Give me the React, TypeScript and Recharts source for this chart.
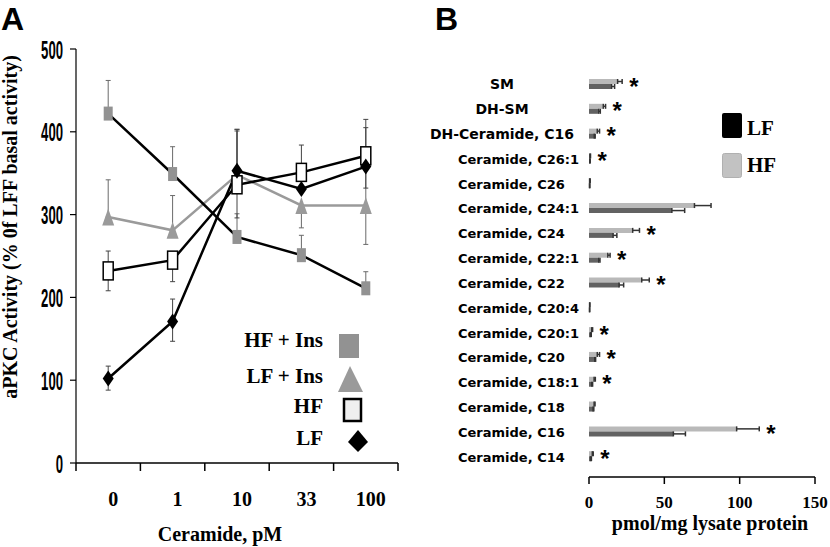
import React from 'react';
import { LineChart, Line, XAxis, YAxis, ErrorBar, BarChart, Bar, LabelList, Legend, Label } from 'recharts';

const SERIF = "'Liberation Serif', 'Times New Roman', serif";
const SANS = "'Liberation Sans', Arial, sans-serif";
const NARROW = "'Liberation Sans Narrow', 'Liberation Sans', Arial, sans-serif";
const LABEL_SANS = "'DejaVu Sans', 'Liberation Sans', sans-serif";

// ---------- Panel A data ----------
const concentrations = ['0', '1', '10', '33', '100'];
const hfInsValues = [422, 349, 273, 251, 211];
const hfInsErrors = [[0, 40], [0, 33], [0, 28], [0, 24], [0, 20]];
const lfInsValues = [297, 281, 348, 311, 311];
const lfInsErrors = [[0, 45], [0, 42], [0, 55], [27, 0], [47, 50]];
const hfValues = [232, 245, 336, 351, 371];
const hfErrors = [[24, 24], [26, 0], [40, 65], [0, 33], [0, 44]];
const lfValues = [102, 171, 353, 331, 358];
const lfErrors = [[14, 15], [24, 27], [0, 50], [0, 0], [26, 47]];
const yTicksA = [0, 100, 200, 300, 400, 500];
const legendA = ['HF + Ins', 'LF + Ins', 'HF', 'LF'];

// ---------- Panel B data ----------
const lipids = [
  'SM', 'DH-SM', 'DH-Ceramide, C16', 'Ceramide, C26:1', 'Ceramide, C26', 'Ceramide, C24:1',
  'Ceramide, C24', 'Ceramide, C22:1', 'Ceramide, C22', 'Ceramide, C20:4', 'Ceramide, C20:1',
  'Ceramide, C20', 'Ceramide, C18:1', 'Ceramide, C18', 'Ceramide, C16', 'Ceramide, C14',
];
const hfLipid = [19, 9.5, 5.5, 0.6, 0.4, 70, 29, 12.5, 35, 0.4, 1.8, 5.5, 3.4, 3.4, 98, 2.2];
const hfLipidErr = [3, 1.5, 1.5, 0.4, 0.4, 11, 4.5, 1.5, 5, 0.2, 0.6, 1.5, 0.8, 0.6, 15, 0.6];
const lfLipid = [15, 6.5, 3.5, 0.5, 0.3, 55, 16, 6.5, 20, 0.3, 1.1, 3.8, 1.8, 2.7, 56, 1.1];
const lfLipidErr = [2, 1, 0.6, 0.3, 0.3, 8.5, 2.5, 0.8, 3, 0.2, 0.4, 0.6, 0.6, 0.5, 8, 0.5];
const significant = [true, true, true, true, false, false, true, true, true, false, true, true, true, false, true, true];
const xTicksB = [0, 50, 100, 150];
const legendB = ['LF', 'HF'];

const dataA = concentrations.map((c, i) => ({
  x: i + 0.5,
  label: c,
  hfIns: hfInsValues[i],
  hfInsErr: hfInsErrors[i],
  lfIns: lfInsValues[i],
  lfInsErr: lfInsErrors[i],
  hf: hfValues[i],
  hfErr: hfErrors[i],
  lf: lfValues[i],
  lfErr: lfErrors[i],
}));
const xTicksA = concentrations.flatMap((_, i) => [i, i + 0.5]).concat([concentrations.length]);

const dataB = lipids.map((name, i) => ({
  name,
  hf: hfLipid[i],
  hfErr: [0, hfLipidErr[i]],
  lf: lfLipid[i],
  lfErr: [0, lfLipidErr[i]],
  sig: significant[i] ? '*' : '',
}));

const GRAY_MARK = '#929292';
const GRAY_LINE = '#9a9a9a';
const HF_BAR = '#b9b9b9';
const LF_BAR = '#626262';

// ---------- shapes ----------
const rectDot = (w: number, h: number, fill: string, stroke: string, sw: number) => (p: any) => {
  const { cx, cy, index } = p;
  if (cx == null || cy == null) return <g key={`e${index}`} />;
  return <rect key={`r${index}`} x={cx - w / 2} y={cy - h / 2} width={w} height={h} fill={fill} stroke={stroke} strokeWidth={sw} />;
};
const triDot = (w: number, h: number, fill: string) => (p: any) => {
  const { cx, cy, index } = p;
  if (cx == null || cy == null) return <g key={`e${index}`} />;
  return <polygon key={`t${index}`} points={`${cx},${cy - h / 2} ${cx + w / 2},${cy + h / 2} ${cx - w / 2},${cy + h / 2}`} fill={fill} />;
};
const diaDot = (w: number, h: number, fill: string) => (p: any) => {
  const { cx, cy, index } = p;
  if (cx == null || cy == null) return <g key={`e${index}`} />;
  return <polygon key={`d${index}`} points={`${cx},${cy - h / 2} ${cx + w / 2},${cy} ${cx},${cy + h / 2} ${cx - w / 2},${cy}`} fill={fill} />;
};

const XTickA = (props: any) => {
  const { x, y, payload } = props;
  const v = payload.value;
  if (Number.isInteger(v)) {
    return <line x1={x} x2={x} y1={y} y2={y + 8} stroke="#000" strokeWidth={1.5} />;
  }
  return (
    <text x={x + 5} y={y + 43} textAnchor="middle" fontFamily={SERIF} fontWeight="bold" fontSize={20} fill="#000">
      {concentrations[Math.floor(v)]}
    </text>
  );
};

const YTickA = (props: any) => {
  const { x, y, payload } = props;
  const s = String(payload.value);
  return (
    <text x={x} y={y + 9.5} textAnchor="end" fontFamily={NARROW} fontWeight="bold" fontSize={26} fill="#000"
      textLength={s.length * 7.3} lengthAdjust="spacingAndGlyphs">
      {s}
    </text>
  );
};

const LegendA = () => {
  const tx = 88;
  return (
    <svg width={150} height={135} style={{ overflow: 'visible' }}>
      {legendA.map((t, i) => {
        const base = [22, 58, 88, 120][i];
        return (
          <text key={t} x={tx} y={base} textAnchor="end" fontFamily={SERIF} fontWeight="bold" fontSize={21} fill="#000">{t}</text>
        );
      })}
      <rect x={104} y={9} width={20} height={24} fill={GRAY_MARK} />
      <polygon points={`${115},${41} ${128},${67} ${103},${67}`} fill={GRAY_LINE} />
      <rect x={109} y={74} width={17} height={22} fill="#efefef" stroke="#000" strokeWidth={2.5} />
      <polygon points={`${123},${105} ${133},${117} ${123},${127} ${113},${117}`} fill="#000" />
    </svg>
  );
};

const LegendB = () => (
  <svg width={80} height={80} style={{ overflow: 'visible' }}>
    <rect x={2} y={3} width={20} height={25} rx={2} fill="#000" />
    <text x={27} y={25} fontFamily={SERIF} fontWeight="bold" fontSize={21} fill="#000">{legendB[0]}</text>
    <rect x={2.5} y={43.5} width={19} height={24} rx={2} fill="#c2c2c2" stroke="#b0b0b0" strokeWidth={1} />
    <text x={27} y={62} fontFamily={SERIF} fontWeight="bold" fontSize={21} fill="#000">{legendB[1]}</text>
  </svg>
);

const PanelA = () => (
  <LineChart width={420} height={547} data={dataA} margin={{ top: 49, right: 22, bottom: 0, left: 16 }}>
    <XAxis type="number" dataKey="x" domain={[0, concentrations.length]} ticks={xTicksA} interval={0}
      tickSize={0} tickMargin={0} tickLine={false} axisLine={{ stroke: '#000', strokeWidth: 1.5 }}
      tick={<XTickA />} height={84} allowDataOverflow>
      <Label content={() => (
        <text x={220} y={541} textAnchor="middle" fontFamily={SERIF} fontWeight="bold" fontSize={20} fill="#000">Ceramide, pM</text>
      )} />
    </XAxis>
    <YAxis type="number" domain={[0, 500]} ticks={yTicksA} interval={0} width={60} tickSize={6} tickMargin={7}
      axisLine={{ stroke: '#000', strokeWidth: 1.2 }} tickLine={{ stroke: '#000', strokeWidth: 1.2 }}
      tick={<YTickA />} allowDataOverflow>
      <Label content={() => (
        <text x={17} y={227} transform="rotate(-90 17 227)" textAnchor="middle" fontFamily={SERIF} fontWeight="bold" fontSize={20} fill="#000">
          aPKC Activity (% 0f LFF basal activity)
        </text>
      )} />
    </YAxis>
    <Legend layout="vertical" align="center" verticalAlign="middle" content={() => <LegendA />}
      wrapperStyle={{ left: 235, top: 325, width: 150, height: 135 }} />
    <Line dataKey="lfIns" stroke={GRAY_LINE} strokeWidth={2.5} dot={triDot(12, 17, GRAY_LINE)} isAnimationActive={false} legendType="none">
      <ErrorBar dataKey="lfInsErr" direction="y" width={2.5} stroke="#6a6a6a" strokeWidth={1} />
    </Line>
    <Line dataKey="hfIns" stroke="#000" strokeWidth={2.5} dot={rectDot(9, 14, GRAY_MARK, 'none', 0)} isAnimationActive={false} legendType="none">
      <ErrorBar dataKey="hfInsErr" direction="y" width={2.5} stroke="#6a6a6a" strokeWidth={1} />
    </Line>
    <Line dataKey="hf" stroke="#000" strokeWidth={2.5} dot={rectDot(10, 18, '#fff', '#000', 1.5)} isAnimationActive={false} legendType="none">
      <ErrorBar dataKey="hfErr" direction="y" width={2.5} stroke="#444" strokeWidth={1} />
    </Line>
    <Line dataKey="lf" stroke="#000" strokeWidth={2.5} dot={diaDot(11, 16, '#000')} isAnimationActive={false} legendType="none">
      <ErrorBar dataKey="lfErr" direction="y" width={2.5} stroke="#444" strokeWidth={1} />
    </Line>
  </LineChart>
);

const LipidTick = (props: any) => {
  const { x, y, payload } = props;
  const name: string = payload.value;
  const isCer = name.startsWith('Ceramide');
  return (
    <text x={isCer ? x - 131 : x - 87} y={y + 5} textAnchor={isCer ? 'start' : 'middle'}
      fontFamily={LABEL_SANS} fontWeight="bold" fontSize={isCer ? 13 : 14} fill="#000">
      {name}
    </text>
  );
};

const StarLabel = (props: any) => {
  const { x, y, width, value, index } = props;
  if (!value) return null;
  const v = hfLipid[index];
  const pxPerUnit = v > 0 ? width / v : 0;
  const end = x + (v + hfLipidErr[index]) * pxPerUnit;
  return (
    <text x={end + 7} y={y + 15.5} fontFamily={SANS} fontWeight="bold" fontSize={24} fill="#000">{value}</text>
  );
};

const PanelB = () => (
  <BarChart width={410} height={547} data={dataB} layout="vertical" margin={{ top: 72, right: 15, bottom: 0, left: 0 }}
    barGap={0} barSize={5}>
    <XAxis type="number" domain={[0, 150]} ticks={xTicksB} interval={0} tickSize={7} tickMargin={12} height={70}
      axisLine={{ stroke: '#000', strokeWidth: 1.5 }} tickLine={{ stroke: '#000', strokeWidth: 1.5 }}
      tick={{ fontFamily: SERIF, fontWeight: 'bold', fontSize: 17, fill: '#000' }} allowDataOverflow>
      <Label content={() => (
        <text x={290} y={530} textAnchor="middle" fontFamily={SERIF} fontWeight="bold" fontSize={20} fill="#000">pmol/mg lysate protein</text>
      )} />
    </XAxis>
    <YAxis type="category" dataKey="name" width={169} axisLine={false} tickLine={false} tickSize={0} tickMargin={0}
      tick={<LipidTick />} interval={0} padding={{ top: 0, bottom: 8 }} />
    <Legend layout="vertical" align="center" verticalAlign="middle" content={() => <LegendB />}
      wrapperStyle={{ left: 300, top: 110, width: 80, height: 80 }} />
    <Bar dataKey="hf" fill={HF_BAR} isAnimationActive={false}>
      <ErrorBar dataKey="hfErr" direction="x" width={2.5} stroke="#333" strokeWidth={1.5} />
      <LabelList dataKey="sig" content={<StarLabel />} />
    </Bar>
    <Bar dataKey="lf" fill={LF_BAR} isAnimationActive={false}>
      <ErrorBar dataKey="lfErr" direction="x" width={2.5} stroke="#333" strokeWidth={1.5} />
    </Bar>
  </BarChart>
);

export default function App() {
  return (
    <div style={{ position: 'absolute', left: 0, top: 0, width: 830, height: 547, background: '#fff', overflow: 'hidden' }}>
      <div style={{ position: 'absolute', left: 0, top: 0 }}><PanelA /></div>
      <div style={{ position: 'absolute', left: 420, top: 0 }}><PanelB /></div>
      <svg width={830} height={547} style={{ position: 'absolute', left: 0, top: 0, pointerEvents: 'none' }}>
        <text x={1} y={30} fontFamily={SANS} fontWeight="bold" fontSize={32} fill="#000">A</text>
        <text x={435} y={30} fontFamily={SANS} fontWeight="bold" fontSize={32} fill="#000">B</text>
      </svg>
    </div>
  );
}
